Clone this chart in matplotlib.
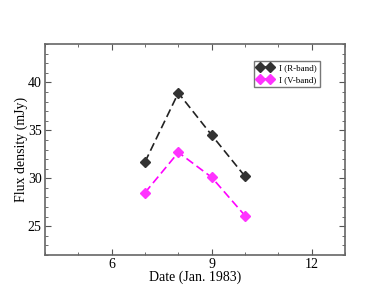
import matplotlib
matplotlib.use("agg")
import matplotlib.pyplot as plt
from matplotlib.ticker import MultipleLocator

plt.rcParams['font.family'] = ['Liberation Serif', 'DejaVu Serif']

dates = [7, 8, 9, 10]
flux_r = [31.7, 38.9, 34.5, 30.2]
flux_v = [28.5, 32.7, 30.1, 26.1]

fig = plt.figure(figsize=(3.88, 3.0), dpi=100)
ax = fig.add_axes([45/388, 1 - 255/300, 300/388, 211/300])

ax.plot(dates, flux_r, linestyle=(0, (5, 2.5)), color='#222222', linewidth=1.2,
        marker='D', markersize=5, markerfacecolor='#333333', markeredgecolor='#333333',
        label='I (R-band)')
ax.plot(dates, flux_v, linestyle=(0, (5, 2.5)), color='#ff00ff', linewidth=1.2,
        marker='D', markersize=5, markerfacecolor='#ff33ff', markeredgecolor='#ff33ff',
        label='I (V-band)')

ax.set_xlim(4, 13)
ax.set_ylim(22, 44)
ax.xaxis.set_major_locator(MultipleLocator(3))
ax.xaxis.set_minor_locator(MultipleLocator(1))
ax.yaxis.set_major_locator(MultipleLocator(5))
ax.yaxis.set_minor_locator(MultipleLocator(1))
ax.tick_params(which='both', direction='in', top=True, right=True, labelsize=10, color='#555555', pad=2.5)
ax.tick_params(which='major', length=4, width=0.8)
ax.tick_params(which='minor', length=2, width=0.6)
for s in ax.spines.values():
    s.set_color('#666666')
    s.set_linewidth(1.2)

ax.set_xlabel('Date (Jan. 1983)', fontsize=10, labelpad=-1)
ax.set_ylabel('Flux density (mJy)', fontsize=10, labelpad=0)

leg = ax.legend(loc='upper right', bbox_to_anchor=(0.915, 0.92), numpoints=2, fontsize=6.5,
                fancybox=False, framealpha=1, edgecolor='#777777',
                handlelength=1.8, borderpad=0.35, labelspacing=0.35, handletextpad=0.6,
                borderaxespad=0)
leg.get_frame().set_linewidth(1.0)

fig.savefig('out.png', dpi=100)
